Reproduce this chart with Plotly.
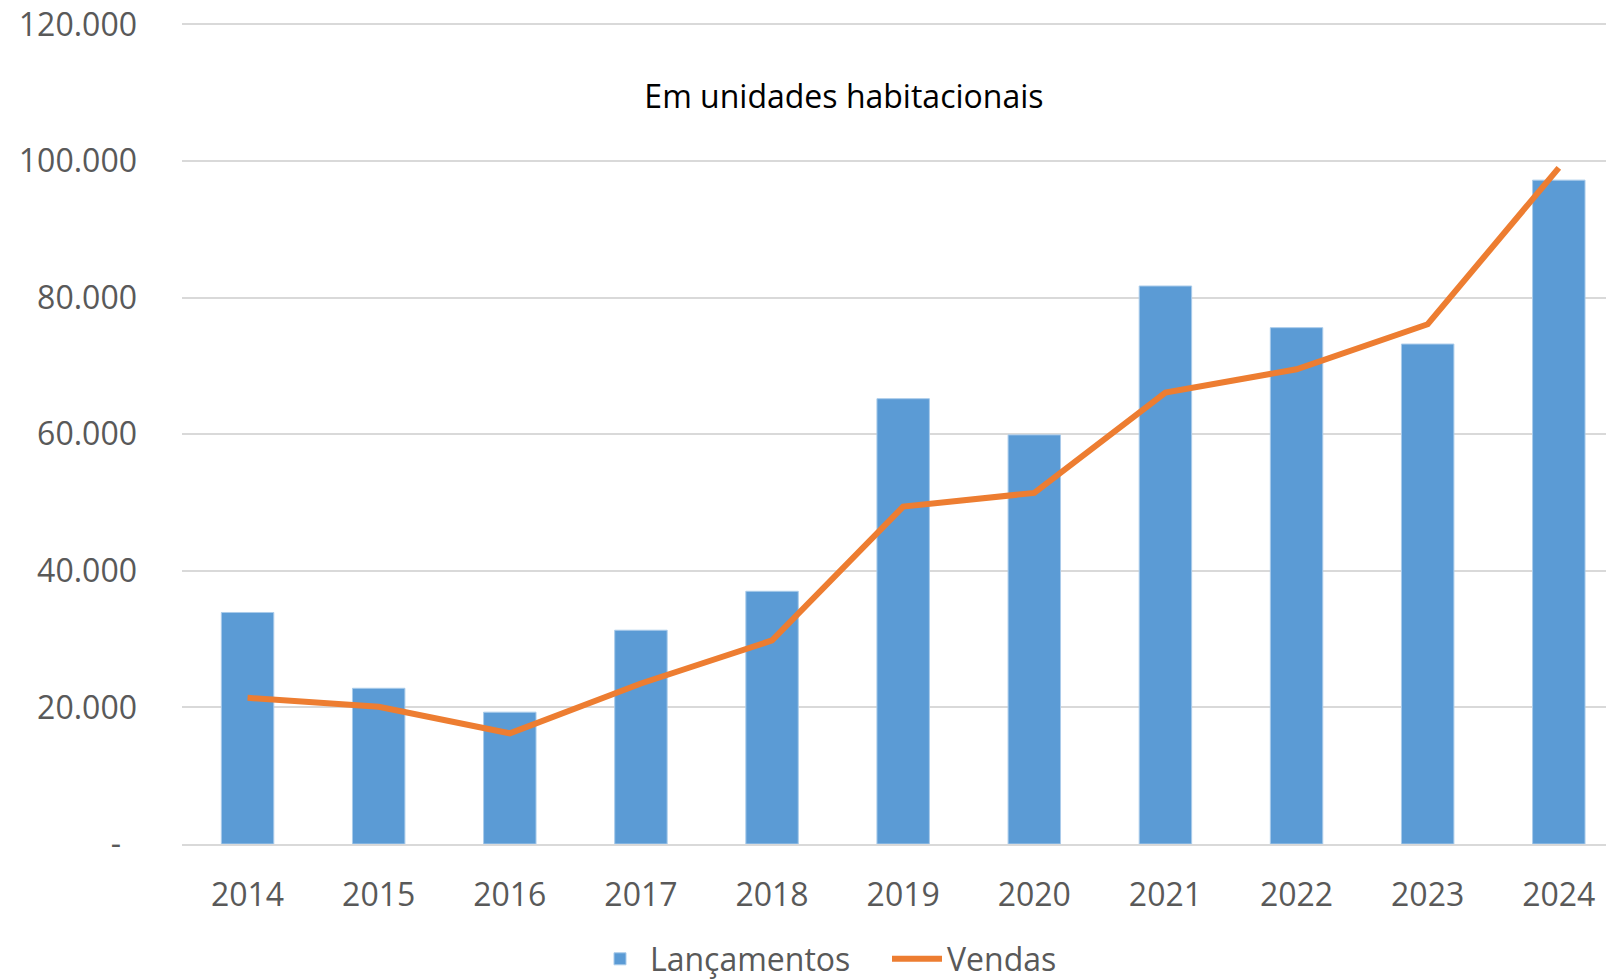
import plotly.graph_objects as go

years = ["2014", "2015", "2016", "2017", "2018", "2019", "2020", "2021", "2022", "2023", "2024"]
lancamentos = [33900, 22800, 19300, 31300, 37000, 65200, 59900, 81700, 75600, 73200, 97200]
vendas = [21400, 20100, 16200, 23500, 29800, 49400, 51400, 66100, 69500, 76100, 99000]
y_ticks = [0, 20000, 40000, 60000, 80000, 100000, 120000]
y_labels = ["-\u2002", "20.000", "40.000", "60.000", "80.000", "100.000", "120.000"]

FONT = "Open Sans"
GRAY = "#595959"

fig = go.Figure()
fig.add_trace(go.Bar(
    x=years, y=lancamentos, name="Lançamentos",
    marker=dict(color="#5B9BD5", line=dict(color="#A9CBEA", width=1)),
))
fig.add_trace(go.Scatter(
    x=years, y=vendas, name="Vendas", mode="lines",
    line=dict(color="#ED7D31", width=6),
))

fig.update_layout(
    width=1606, height=979,
    margin=dict(l=182, r=0, t=21, b=135, pad=0),
    paper_bgcolor="white", plot_bgcolor="white",
    bargap=0.6,
    font=dict(family=FONT, color=GRAY, size=32),
    title=dict(text="Em unidades habitacionais", x=0.5255, xref="container", xanchor="center",
               y=1 - 97 / 979, yref="container", yanchor="middle",
               font=dict(family=FONT, color="black", size=32)),
    legend=dict(orientation="h", x=590 / 1606, xref="container", xanchor="left",
                y=1 - 959 / 979, yref="container", yanchor="middle",
                font=dict(family=FONT, color=GRAY, size=32), itemwidth=50,
                entrywidth=232, entrywidthmode="pixels",
                bgcolor="rgba(0,0,0,0)"),
    showlegend=True,
)
fig.update_xaxes(
    type="category", range=[-0.5, 10.36],
    showgrid=False, showline=True, linecolor="#D9D9D9", linewidth=1.5,
    ticks="", ticklabelstandoff=22,
    tickfont=dict(family=FONT, color=GRAY, size=32),
)
fig.update_yaxes(
    range=[0, 120500], tickvals=y_ticks, ticktext=y_labels,
    showgrid=True, gridcolor="#D9D9D9", gridwidth=1.5,
    zeroline=False, showline=False, ticks="",
    ticklabelstandoff=44,
    tickfont=dict(family=FONT, color=GRAY, size=32),
)

fig.write_html("out.html", config={"displayModeBar": False},
               post_script="document.body.style.margin='0';document.body.style.overflow='hidden';")
